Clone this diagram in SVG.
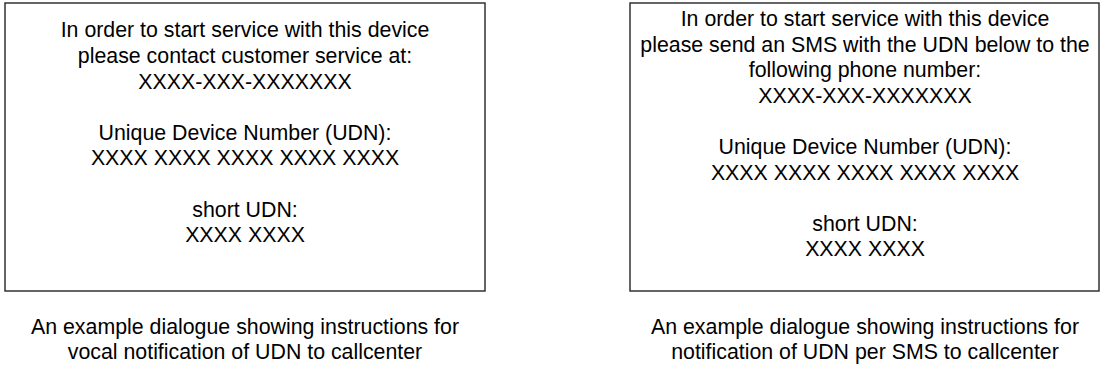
<svg xmlns="http://www.w3.org/2000/svg" width="1100" height="368" viewBox="0 0 1100 368">
  <style>
    .box { fill: #ffffff; stroke: #333333; stroke-width: 1.5; }
    .t { font-family: "Liberation Sans", Arial, sans-serif; font-size: 21.33px; fill: #000000; text-anchor: middle; }
  </style>
  <rect width="1100" height="368" fill="#ffffff"/>
  <g id="dialog-vocal">
    <rect class="box" x="5" y="3" width="480" height="288"/>
    <text class="t" x="245" y="37.3">In order to start service with this device</text>
    <text class="t" x="245" y="62.9">please contact customer service at:</text>
    <text class="t" x="245" y="88.5">XXXX-XXX-XXXXXXX</text>
    <text class="t" x="245" y="139.7">Unique Device Number (UDN):</text>
    <text class="t" x="245" y="165.3">XXXX XXXX XXXX XXXX XXXX</text>
    <text class="t" x="245" y="216.5">short UDN:</text>
    <text class="t" x="245" y="242.1">XXXX XXXX</text>
  </g>
  <g id="dialog-sms">
    <rect class="box" x="630" y="3" width="469" height="288"/>
    <text class="t" x="865" y="26">In order to start service with this device</text>
    <text class="t" x="865" y="51.6">please send an SMS with the UDN below to the</text>
    <text class="t" x="865" y="77.2">following phone number:</text>
    <text class="t" x="865" y="102.8">XXXX-XXX-XXXXXXX</text>
    <text class="t" x="865" y="154">Unique Device Number (UDN):</text>
    <text class="t" x="865" y="179.6">XXXX XXXX XXXX XXXX XXXX</text>
    <text class="t" x="865" y="230.8">short UDN:</text>
    <text class="t" x="865" y="256.4">XXXX XXXX</text>
  </g>
  <g id="caption-vocal">
    <text class="t" x="245" y="334">An example dialogue showing instructions for</text>
    <text class="t" x="245" y="359">vocal notification of UDN to callcenter</text>
  </g>
  <g id="caption-sms">
    <text class="t" x="865" y="334">An example dialogue showing instructions for</text>
    <text class="t" x="865" y="359">notification of UDN per SMS to callcenter</text>
  </g>
  <g id="connectors"/>
</svg>
